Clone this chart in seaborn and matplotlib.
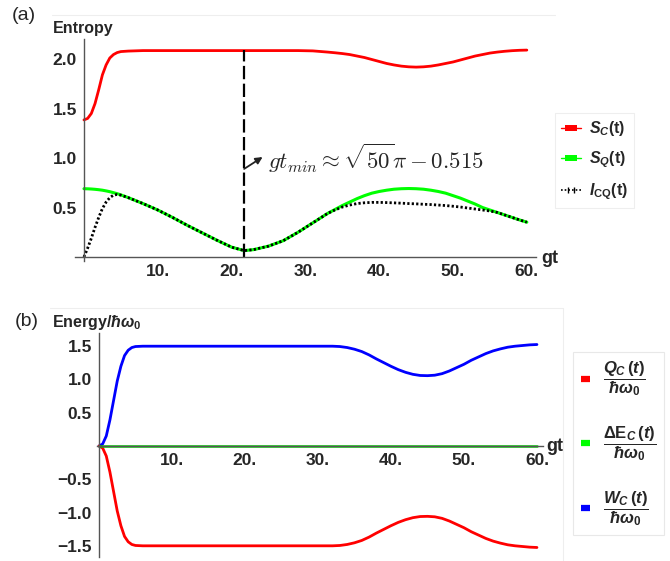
import matplotlib
matplotlib.use("Agg")
import matplotlib.pyplot as plt
import seaborn as sns
from matplotlib.lines import Line2D
from matplotlib.path import Path
from matplotlib.ticker import FixedLocator, MultipleLocator, FuncFormatter

# ---- data ----
gt_a = [0, 0.5, 1, 1.5, 2, 2.5, 3, 3.5, 4, 4.5, 5, 6, 8, 10, 12, 14, 16, 18, 20, 21.7,
        23, 25, 27, 29, 31, 33, 34, 35, 36, 37, 38, 39, 40, 41, 42, 43, 44, 45, 46, 47,
        48, 49, 50, 51, 52, 53, 54, 55, 56, 57, 58, 59, 60]
s_c = [1.385, 1.40, 1.45, 1.55, 1.69, 1.84, 1.94, 2.01, 2.045, 2.065, 2.075, 2.08, 2.085, 2.085,
       2.085, 2.085, 2.085, 2.085, 2.085, 2.085, 2.085, 2.085, 2.085, 2.085, 2.082, 2.07, 2.063,
       2.055, 2.045, 2.03, 2.015, 1.995, 1.975, 1.955, 1.94, 1.928, 1.921, 1.918, 1.921, 1.928,
       1.94, 1.955, 1.97, 1.99, 2.01, 2.03, 2.045, 2.06, 2.07, 2.078, 2.084, 2.088, 2.09]
s_q = [0.69, 0.689, 0.687, 0.684, 0.68, 0.675, 0.668, 0.66, 0.65, 0.64, 0.628, 0.60, 0.54, 0.475,
       0.40, 0.32, 0.245, 0.17, 0.10, 0.065, 0.075, 0.11, 0.165, 0.25, 0.345, 0.44, 0.48, 0.52,
       0.555, 0.59, 0.62, 0.645, 0.662, 0.675, 0.685, 0.69, 0.692, 0.69, 0.685, 0.675, 0.662,
       0.645, 0.62, 0.595, 0.565, 0.535, 0.50, 0.475, 0.45, 0.425, 0.40, 0.375, 0.352]
i_cq = [0.0, 0.09, 0.19, 0.30, 0.40, 0.49, 0.555, 0.60, 0.625, 0.632, 0.625, 0.60, 0.54, 0.475,
        0.40, 0.32, 0.245, 0.17, 0.10, 0.065, 0.075, 0.11, 0.165, 0.25, 0.345, 0.44, 0.475, 0.505,
        0.525, 0.54, 0.548, 0.552, 0.552, 0.55, 0.547, 0.544, 0.54, 0.537, 0.533, 0.53, 0.525,
        0.52, 0.513, 0.505, 0.495, 0.485, 0.475, 0.465, 0.45, 0.425, 0.40, 0.375, 0.352]
gt_min = 21.7
dash_top = 2.09

gt_b = [0, 0.5, 1, 1.5, 2, 2.5, 3, 3.5, 4, 4.5, 5, 6, 8, 10, 12, 14, 16, 18, 20, 22, 24, 26,
        28, 30, 32, 33, 34, 35, 36, 37, 38, 39, 40, 41, 42, 43, 44, 45, 46, 47, 48, 49, 50,
        51, 52, 53, 54, 55, 56, 57, 58, 59, 60]
w_c = [0.0, 0.03, 0.15, 0.39, 0.68, 0.97, 1.19, 1.35, 1.43, 1.47, 1.485, 1.49, 1.49, 1.49, 1.49,
       1.49, 1.49, 1.49, 1.49, 1.49, 1.49, 1.49, 1.49, 1.49, 1.49, 1.485, 1.47, 1.445, 1.41, 1.36,
       1.30, 1.245, 1.19, 1.14, 1.10, 1.07, 1.053, 1.05, 1.057, 1.08, 1.12, 1.17, 1.22, 1.28,
       1.33, 1.38, 1.42, 1.45, 1.475, 1.49, 1.50, 1.51, 1.515]
q_c = [0.0, -0.03, -0.15, -0.39, -0.68, -0.97, -1.19, -1.35, -1.43, -1.47, -1.485, -1.49, -1.49,
       -1.49, -1.49, -1.49, -1.49, -1.49, -1.49, -1.49, -1.49, -1.49, -1.49, -1.49, -1.49, -1.485,
       -1.47, -1.445, -1.41, -1.36, -1.30, -1.245, -1.19, -1.14, -1.10, -1.07, -1.053, -1.05,
       -1.057, -1.08, -1.12, -1.17, -1.22, -1.28, -1.33, -1.38, -1.42, -1.45, -1.475, -1.49,
       -1.50, -1.51, -1.515]
gt_de = [0, 60]
de_c = [0.0, 0.0]

x_ticks = [10, 20, 30, 40, 50, 60]
y_ticks_a = [0.5, 1.0, 1.5, 2.0]
y_ticks_b = [-1.5, -1.0, -0.5, 0.5, 1.0, 1.5]

# ---- style ----
sns.set_style("white")
plt.rcParams["font.family"] = ["Liberation Sans", "DejaVu Sans"]
plt.rcParams["mathtext.fontset"] = "custom"
plt.rcParams["mathtext.rm"] = "Liberation Sans:bold"
plt.rcParams["mathtext.it"] = "Liberation Sans:italic:bold"
plt.rcParams["mathtext.bf"] = "Liberation Sans:bold"

W, H = 670, 561
fig = plt.figure(figsize=(W / 100, H / 100), dpi=100)


def px_box(left, top, right, bottom):
    return [left / W, 1 - bottom / H, (right - left) / W, (bottom - top) / H]


def style_axes(ax, yticks):
    for s in ["top", "right"]:
        ax.spines[s].set_visible(False)
    ax.spines["left"].set_position(("data", 0))
    ax.spines["bottom"].set_position(("data", 0))
    for s in ["left", "bottom"]:
        ax.spines[s].set_color("#555555")
        ax.spines[s].set_linewidth(1.0)
    ax.xaxis.set_major_locator(FixedLocator(x_ticks))
    ax.xaxis.set_major_formatter(FuncFormatter(lambda v, p: f"{v:.0f}."))
    ax.yaxis.set_major_locator(FixedLocator(yticks))
    ax.yaxis.set_minor_locator(MultipleLocator(0.1))
    ax.yaxis.set_major_formatter(FuncFormatter(lambda v, p: f"{v:.1f}".replace("-", "\u2212")))
    ax.tick_params(axis="both", which="major", direction="in", length=4, width=0.8,
                   color="#555555", labelsize=12.5, pad=5)
    ax.tick_params(axis="y", which="minor", direction="in", length=2, width=0.6, color="#555555")
    for lab in ax.get_xticklabels() + ax.get_yticklabels():
        lab.set_fontweight("bold")
    ax.set_xlabel("")
    ax.set_ylabel("")
    ax.grid(False)


# ---- panel (a) ----
ax1 = fig.add_axes(px_box(75.1, 39.2, 535.7, 261))
ax1.set_facecolor("none")
sns.lineplot(x=gt_a, y=s_c, ax=ax1, color="#ff0000", lw=2.0)
sns.lineplot(x=gt_a, y=s_q, ax=ax1, color="#00ff00", lw=2.2)
sns.lineplot(x=gt_a, y=i_cq, ax=ax1, color="black", lw=2.0, linestyle=(0, (0.8, 0.8)))
ax1.plot([gt_min, gt_min], [0, dash_top], color="black", lw=1.6, linestyle=(0, (6, 2)))
ax1.set_xlim(-1.2, 61.2)
ax1.set_ylim(-0.04, 2.2)
style_axes(ax1, y_ticks_a)
ax1.annotate("", xy=(24.2, 1.01), xytext=(gt_min, 0.89),
             arrowprops=dict(arrowstyle="-|>", color="#222222", lw=1.3, mutation_scale=10,
                             shrinkA=0, shrinkB=0))
ax1.text(24.9, 1.0, r"$gt_{min} \approx \sqrt{50}\pi - 0.515$", math_fontfamily="cm",
         fontsize=16.5, va="center", ha="left")
ax1.text(61.9, -0.06, "gt", fontsize=13, fontweight="bold", ha="left", va="baseline")

fig.text(12 / W, 1 - 16 / H, "(a)", fontsize=14, va="center", ha="left")
fig.text(53 / W, 1 - 28 / H, "Entropy", fontsize=11.5, fontweight="bold", va="center", ha="left")

rect = [(-1.7, -0.9), (1.7, -0.9), (1.7, 0.9), (-1.7, 0.9), (-1.7, -0.9)]
bars = Path([(-1, -1), (-1, 1), (1, -1), (1, 1)],
            [Path.MOVETO, Path.LINETO, Path.MOVETO, Path.LINETO])
handles_a = [
    Line2D([0], [0], color="#ff0000", lw=1.0, marker=rect, markersize=9, markeredgewidth=0),
    Line2D([0], [0], color="#00ff00", lw=1.0, marker=rect, markersize=9, markeredgewidth=0),
    Line2D([0], [0], color="black", lw=1.2, linestyle=(0, (1, 1.2)), marker=bars,
           markersize=5, markeredgewidth=1.0, markeredgecolor="black", markerfacecolor="none"),
]
labels_a = [r"$S_C$(t)", r"$S_Q$(t)", r"$I_{\mathrm{CQ}}$(t)"]
leg_a = fig.legend(handles_a, labels_a, loc="upper left", bbox_to_anchor=(555 / W, 1 - 113 / H),
                   borderaxespad=0, frameon=True, fancybox=False, edgecolor="#eeeeee",
                   framealpha=1, handlelength=1.25, handletextpad=0.45, labelspacing=0.7,
                   borderpad=0.4, prop=dict(size=11.5, weight="bold"))
leg_a.get_frame().set_linewidth(0.8)

# ---- panel (b) ----
ax2 = fig.add_axes(px_box(96.8, 332.8, 542.8, 557.2))
ax2.set_facecolor("none")
sns.lineplot(x=gt_b, y=w_c, ax=ax2, color="#0000ff", lw=2.0)
sns.lineplot(x=gt_b, y=q_c, ax=ax2, color="#ff0000", lw=2.0)
sns.lineplot(x=gt_de, y=de_c, ax=ax2, color="#00cc00", lw=1.8)
ax2.set_xlim(-0.3, 60.8)
ax2.set_ylim(-1.66, 1.69)
style_axes(ax2, y_ticks_b)
ax2.text(61.3, -0.075, "gt", fontsize=13, fontweight="bold", ha="left", va="baseline")

fig.text(15 / W, 1 - 321 / H, "(b)", fontsize=14, va="center", ha="left")
fig.text(52 / W, 1 - 323 / H, r"Energy/$ħω_0$", fontsize=11.5, fontweight="bold",
         va="center", ha="left")

handles_b = [Line2D([0], [0], color=c, lw=4.5, solid_capstyle="butt")
             for c in ["#ff0000", "#00ff00", "#0000ff"]]
labels_b = [r"$\dfrac{Q_C\,(t)}{ħω_0}$", r"$\dfrac{\Delta\mathrm{E}_C\,(t)}{ħω_0}$",
            r"$\dfrac{W_C\,(t)}{ħω_0}$"]
leg_b = fig.legend(handles_b, labels_b, loc="upper left", bbox_to_anchor=(573 / W, 1 - 352 / H),
                   borderaxespad=0, frameon=True, fancybox=False, edgecolor="#e8e8e8",
                   framealpha=1, handlelength=0.55, handletextpad=0.8, labelspacing=1.55,
                   borderpad=0.45, prop=dict(size=12, weight="bold"))
leg_b.get_frame().set_linewidth(0.8)

# faint frame lines of the original graphics
for (x0, y0, x1, y1) in [(52, 15, 555, 15), (50, 308, 563, 308), (563, 308, 563, 561)]:
    fig.add_artist(Line2D([x0 / W, x1 / W], [1 - y0 / H, 1 - y1 / H], color="#eeeeee",
                          lw=0.8, transform=fig.transFigure))

fig.savefig("out.png", dpi=100)
